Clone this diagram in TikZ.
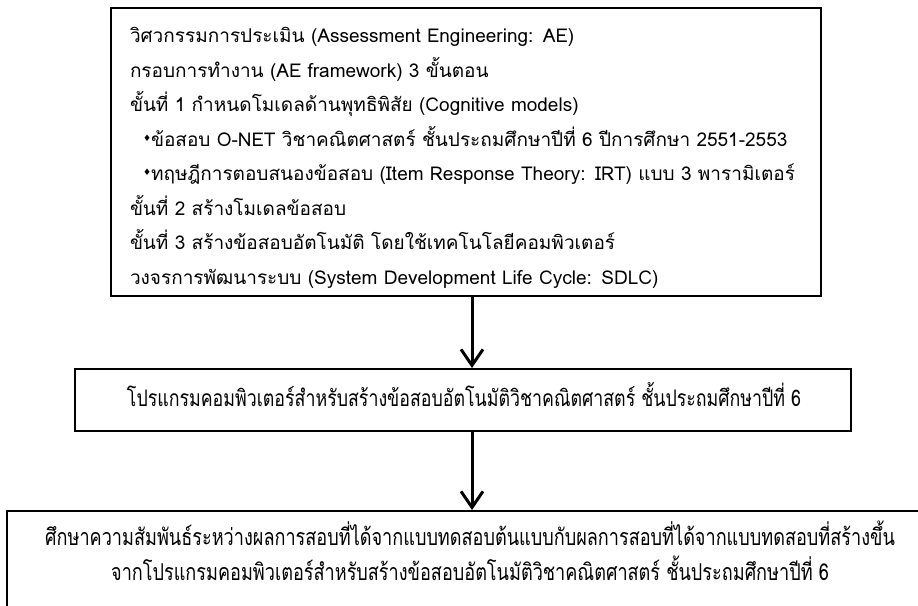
\documentclass[tikz,border=0pt]{standalone}
\usepackage{fontspec}
\setmainfont[Script=Thai]{Loma}
\newfontfamily\thaicond[Script=Thai,FakeStretch=0.78]{Loma}
\newfontfamily\symfont{DejaVu Sans}
\usetikzlibrary{arrows.meta}
\newcommand{\bul}{\hspace*{13pt}\raisebox{5pt}{\fontsize{9}{9}\selectfont\symfont ♦}}
\tikzset{
  boxstyle/.style={draw=black, line width=2pt, rectangle, inner sep=0pt},
  txtstyle/.style={inner sep=0pt},
  flowarrow/.style={line width=3pt, -{Straight Barb[length=16pt,width=22pt,line width=3pt]}},
}
\begin{document}
\begin{tikzpicture}[x=1pt,y=-1pt]
\useasboundingbox (0,0) rectangle (918,605);
\node[boxstyle, minimum width=710pt, minimum height=288pt] (top) at (466,152) {};
\node[txtstyle, text width=672pt, align=left, font=\fontsize{19}{34.5}\selectfont] (toptxt) at (466,158)
{วิศวกรรมการประเมิน (Assessment Engineering: AE)\\
กรอบการทำงาน (AE framework) 3 ขั้นตอน\\
ขั้นที่ 1 กำหนดโมเดลด้านพุทธิพิสัย (Cognitive models)\\
\bul ข้อสอบ O-NET วิชาคณิตศาสตร์ ชั้นประถมศึกษาปีที่ 6 ปีการศึกษา 2551-2553\\
\bul ทฤษฎีการตอบสนองข้อสอบ (Item Response Theory: IRT) แบบ 3 พารามิเตอร์\\
ขั้นที่ 2 สร้างโมเดลข้อสอบ\\
ขั้นที่ 3 สร้างข้อสอบอัตโนมัติ โดยใช้เทคโนโลยีคอมพิวเตอร์\\
วงจรการพัฒนาระบบ (System Development Life Cycle: SDLC)};
\node[boxstyle, minimum width=776pt, minimum height=62pt] (mid) at (463,400) {};
\node[txtstyle, font=\thaicond\fontsize{22.8}{26}\selectfont] (midtxt) at (464,394)
{โปรแกรมคอมพิวเตอร์สำหรับสร้างข้อสอบอัตโนมัติวิชาคณิตศาสตร์ ชั้นประถมศึกษาปีที่ 6};
\node[boxstyle, minimum width=928pt, minimum height=98pt] (bot) at (471,560) {};
\node[txtstyle, align=center, font=\thaicond\fontsize{23.2}{35}\selectfont] (bottxt) at (470,551)
{ศึกษาความสัมพันธ์ระหว่างผลการสอบที่ได้จากแบบทดสอบต้นแบบกับผลการสอบที่ได้จากแบบทดสอบที่สร้างขึ้น\\
จากโปรแกรมคอมพิวเตอร์สำหรับสร้างข้อสอบอัตโนมัติวิชาคณิตศาสตร์ ชั้นประถมศึกษาปีที่ 6};
\coordinate (ax) at (472,0);
\draw[flowarrow] (top.south -| ax) -- (mid.north -| ax);
\draw[flowarrow] (mid.south -| ax) -- (bot.north -| ax);
\end{tikzpicture}
\end{document}
